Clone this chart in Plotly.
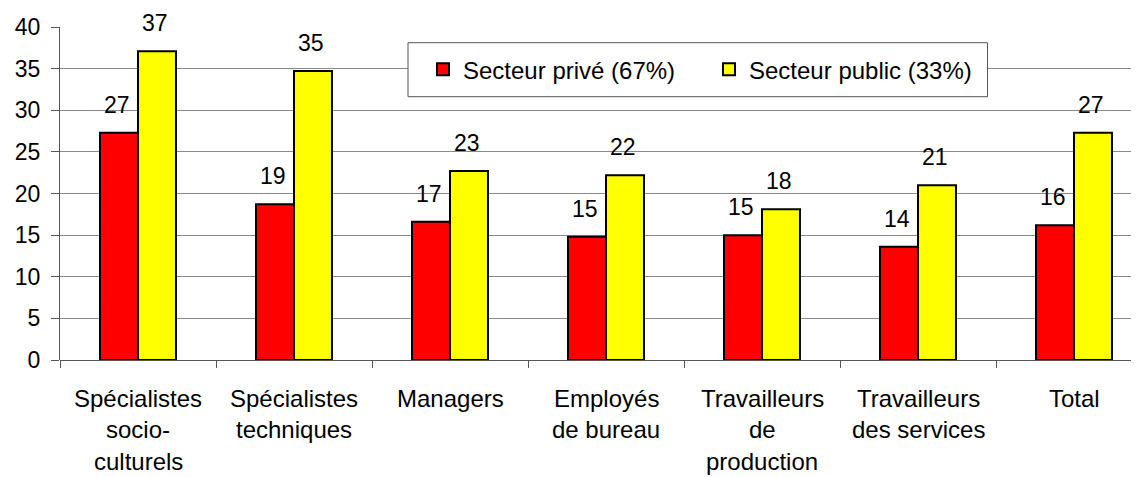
import plotly.graph_objects as go

categories = [
    "Spécialistes<br>socio-<br>culturels",
    "Spécialistes<br>techniques",
    "Managers",
    "Employés<br>de bureau",
    "Travailleurs<br>de<br>production",
    "Travailleurs<br>des services",
    "Total",
]
prive = [27.3, 18.7, 16.6, 14.8, 15.0, 13.6, 16.2]
public = [37.1, 34.7, 22.7, 22.2, 18.1, 21.0, 27.3]
series_names = ["Secteur privé (67%)", "Secteur public (33%)"]
y_ticks = [0, 5, 10, 15, 20, 25, 30, 35, 40]

# page body has an 8px margin: work in window pixels, convert to figure pixels
OFF = 8
W, H = 1139 - OFF, 477 - OFF
ML, MR, MT, MB = 60 - OFF, 0, 27 - OFF, H - (360 - OFF)
FONT = "Liberation Sans, Arial, sans-serif"
cat_px = 156.0
plot_w = W - ML - MR
plot_h = H - MT - MB
x_max = -0.5 + plot_w / cat_px

ids = list(range(len(categories)))

fig = go.Figure()
fig.add_trace(go.Bar(x=ids, y=prive, name=series_names[0],
                     marker=dict(color="#FF0000", line=dict(color="#000000", width=2))))
fig.add_trace(go.Bar(x=ids, y=public, name=series_names[1],
                     marker=dict(color="#FFFF00", line=dict(color="#000000", width=2))))

annotations = []
for i, (a, b) in enumerate(zip(prive, public)):
    annotations.append(dict(x=i, y=a, xref="x", yref="y", text=f"{a:.0f}", showarrow=False,
                            xshift=-21, yshift=13, yanchor="bottom",
                            font=dict(size=23, color="#000", family=FONT)))
    annotations.append(dict(x=i, y=b, xref="x", yref="y", text=f"{b:.0f}", showarrow=False,
                            xshift=17, yshift=13, yanchor="bottom",
                            font=dict(size=23, color="#000", family=FONT)))

# category labels, line by line
for i, lab in enumerate(categories):
    for k, line in enumerate(lab.split("<br>")):
        annotations.append(dict(x=i, y=0, xref="x", yref="paper", text=line, showarrow=False,
                                yanchor="middle", yshift=-38 - 31.5 * k,
                                font=dict(size=24, color="#000", family=FONT)))


def px_x(p):  # window px -> paper
    return (p - OFF - ML) / plot_w


def px_y(p):
    return (H - MB - (p - OFF)) / plot_h


shapes = [dict(type="rect", xref="paper", yref="paper",
               x0=px_x(408), x1=px_x(987.5), y0=px_y(96.7), y1=px_y(42.7),
               line=dict(color="#555555", width=1), fillcolor="#FFFFFF", layer="above")]

fig.update_layout(
    width=W, height=H,
    margin=dict(l=ML, r=MR, t=MT, b=MB, pad=0),
    paper_bgcolor="#FFFFFF", plot_bgcolor="#FFFFFF",
    barmode="group", bargap=0.513, bargroupgap=0,
    font=dict(family=FONT, size=23, color="#000000"),
    showlegend=True,
    legend=dict(orientation="h", x=px_x(423), y=px_y(69.7), xanchor="left", yanchor="middle",
                bgcolor="rgba(0,0,0,0)", borderwidth=0,
                font=dict(size=24, family=FONT, color="#000"),
                entrywidth=241, entrywidthmode="pixels", itemwidth=30),
    annotations=annotations,
    shapes=shapes,
    xaxis=dict(type="linear", range=[-0.5, x_max], tickmode="array",
               tickvals=[i - 0.5 for i in range(len(categories) + 1)],
               showticklabels=False, ticks="outside", ticklen=7, tickcolor="#555555", tickwidth=1,
               showgrid=False, showline=False, zeroline=False, fixedrange=True),
    yaxis=dict(range=[0, 40], tickmode="array", tickvals=y_ticks,
               ticks="outside", ticklen=8, tickcolor="#555555", tickwidth=1,
               showline=True, linecolor="#555555", linewidth=1,
               showgrid=True, gridcolor="#8a8a8a", gridwidth=1,
               zeroline=True, zerolinecolor="#555555", zerolinewidth=1,
               tickfont=dict(size=23, family=FONT, color="#000"), ticklabelstandoff=6),
)

fig.write_html("out.html")
